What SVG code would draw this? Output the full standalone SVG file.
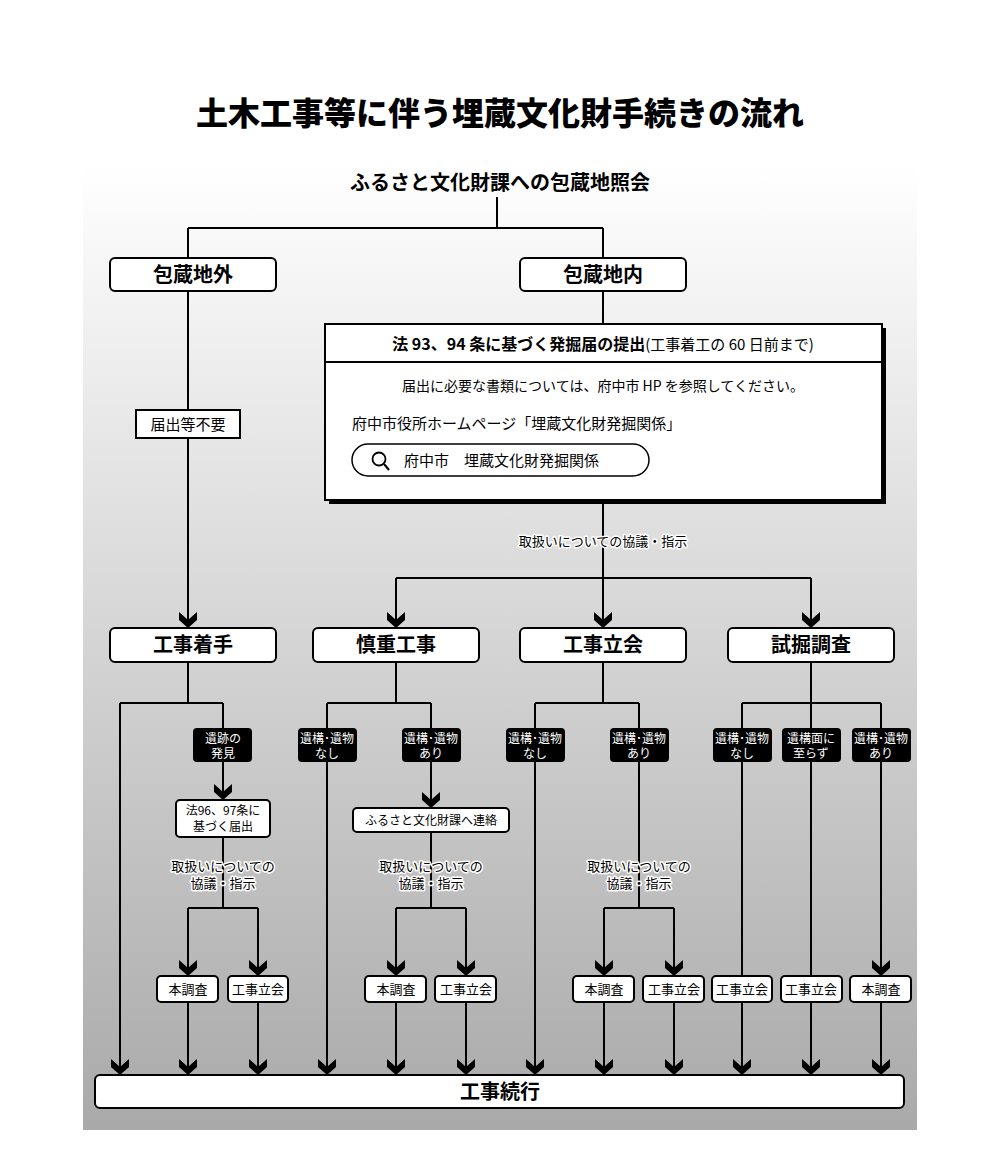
<svg xmlns="http://www.w3.org/2000/svg" width="1000" height="1154" viewBox="0 0 1000 1154">
<defs>
<linearGradient id="bg" x1="0" y1="0" x2="0" y2="1"><stop offset="0" stop-color="#ffffff"/><stop offset="1" stop-color="#a9a9a9"/></linearGradient>
<path id="ar" d="M-9,-16 L0,-8 L9,-16 L9,-8 L0,0 L-9,-8 Z" fill="#000"/>
<style>
text{font-family:"Noto Sans CJK JP","Noto Sans",sans-serif;text-anchor:middle;fill:#000}
.box{fill:#fff;stroke:#000;stroke-width:2}
.blk{fill:#000}
.ln{stroke:#000;stroke-width:2;fill:none}
.big{font-size:20px;font-weight:700}
.sm{font-size:13px}
.w{fill:#fff;font-size:12px}
.halo{stroke:#fff;stroke-width:3;paint-order:stroke;stroke-linejoin:round}
</style>
</defs>
<rect width="1000" height="1154" fill="#fff"/>
<rect x="83" y="165" width="834" height="965" fill="url(#bg)"/>
<text x="500" y="125" style="font-size:32px;font-weight:900">土木工事等に伴う埋蔵文化財手続きの流れ</text>
<g id="connectors">
<path class="ln" d="M497,197V228M188,228H603M188,228V258M603,228V258"/>
<path class="ln" d="M188,291V626M603,291V324M603,500V578M396,578H811M396,578V626M603,578V626M811,578V626"/>
<path class="ln" d="M188,662V703H223M120,703H223M120,703V1073M223,703V728M223,762V798M223,837V908M188,908H258M188,908V974M258,908V974M188,1002V1073M258,1002V1073"/>
<path class="ln" d="M396,662V703M327,703H431M327,703V1073M431,703V806M431,832V908M396,908H466M396,908V974M466,908V974M396,1002V1073M466,1002V1073"/>
<path class="ln" d="M603,662V703M535,703H639M535,703V1073M639,703V908M604,908H674M604,908V974M674,908V974M604,1002V1073M674,1002V1073"/>
<path class="ln" d="M811,662V703M742,703H881M742,703V976M811,703V976M881,703V974M742,1002V1073M811,1002V1073M881,1002V1073"/>
<use href="#ar" x="188" y="628"/><use href="#ar" x="396" y="628"/><use href="#ar" x="603" y="628"/><use href="#ar" x="811" y="628"/>
<use href="#ar" x="223" y="800"/><use href="#ar" x="431" y="808"/>
<use href="#ar" x="188" y="976"/><use href="#ar" x="258" y="976"/><use href="#ar" x="396" y="976"/><use href="#ar" x="466" y="976"/><use href="#ar" x="604" y="976"/><use href="#ar" x="674" y="976"/><use href="#ar" x="881" y="976"/>
<use href="#ar" x="120" y="1075"/><use href="#ar" x="188" y="1075"/><use href="#ar" x="258" y="1075"/><use href="#ar" x="327" y="1075"/><use href="#ar" x="396" y="1075"/><use href="#ar" x="466" y="1075"/><use href="#ar" x="535" y="1075"/><use href="#ar" x="604" y="1075"/><use href="#ar" x="674" y="1075"/><use href="#ar" x="742" y="1075"/><use href="#ar" x="811" y="1075"/><use href="#ar" x="881" y="1075"/>
<text class="sm halo" x="603" y="546">取扱いについての協議・指示</text>
<text class="sm halo" x="223" y="871">取扱いについての</text><text class="sm halo" x="223" y="888">協議・指示</text>
<text class="sm halo" x="431" y="871">取扱いについての</text><text class="sm halo" x="431" y="888">協議・指示</text>
<text class="sm halo" x="639" y="871">取扱いについての</text><text class="sm halo" x="639" y="888">協議・指示</text>
</g>
<g id="n-top"><text class="big" x="500" y="190">ふるさと文化財課への包蔵地照会</text></g>
<g id="n-out"><rect class="box" x="110" y="258" width="166" height="33" rx="5"/><text class="big" x="193" y="282">包蔵地外</text></g>
<g id="n-in"><rect class="box" x="520" y="258" width="166" height="33" rx="5"/><text class="big" x="603" y="282">包蔵地内</text></g>
<g id="n-nofile"><rect class="box" x="136" y="410" width="104" height="28"/><text x="188" y="430" style="font-size:15px">届出等不要</text></g>
<g id="n-file">
<rect x="329" y="328" width="557" height="176" fill="#000"/>
<rect class="box" x="325" y="324" width="557" height="176"/>
<line class="ln" x1="325" y1="362" x2="882" y2="362"/>
<text x="603" y="350" style="font-size:16px"><tspan font-weight="700">法 93、94 条に基づく発掘届の提出</tspan><tspan font-size="15px">(工事着工の 60 日前まで)</tspan></text>
<text x="603" y="391" style="font-size:14px">届出に必要な書類については、府中市 HP を参照してください。</text>
<text x="352" y="429" style="font-size:15px;text-anchor:start">府中市役所ホームページ「埋蔵文化財発掘関係」</text>
<rect x="352" y="444" width="297" height="32" rx="16" fill="#fff" stroke="#000" stroke-width="1.5"/>
<circle cx="379" cy="459" r="6.5" fill="none" stroke="#000" stroke-width="1.8"/><line x1="384" y1="464" x2="389" y2="470" stroke="#000" stroke-width="2"/>
<text x="404" y="466" style="font-size:15px;text-anchor:start">府中市　埋蔵文化財発掘関係</text>
</g>
<g id="n-start"><rect class="box" x="110" y="628" width="166" height="34" rx="5"/><text class="big" x="193" y="652">工事着手</text></g>
<g id="n-careful"><rect class="box" x="313" y="628" width="166" height="34" rx="5"/><text class="big" x="396" y="652">慎重工事</text></g>
<g id="n-witness"><rect class="box" x="520" y="628" width="166" height="34" rx="5"/><text class="big" x="603" y="652">工事立会</text></g>
<g id="n-trial"><rect class="box" x="728" y="628" width="166" height="34" rx="5"/><text class="big" x="811" y="652">試掘調査</text></g>
<g id="b1"><rect class="blk" x="193" y="728" width="59" height="34" rx="4"/><text class="w" x="223" y="743">遺跡の</text><text class="w" x="223" y="758">発見</text></g>
<g id="b2"><rect class="blk" x="298" y="728" width="59" height="34" rx="4"/><text class="w" x="327" y="743">遺構･遺物</text><text class="w" x="327" y="758">なし</text></g>
<g id="b3"><rect class="blk" x="402" y="728" width="59" height="34" rx="4"/><text class="w" x="431" y="743">遺構･遺物</text><text class="w" x="431" y="758">あり</text></g>
<g id="b4"><rect class="blk" x="506" y="728" width="59" height="34" rx="4"/><text class="w" x="535" y="743">遺構･遺物</text><text class="w" x="535" y="758">なし</text></g>
<g id="b5"><rect class="blk" x="610" y="728" width="59" height="34" rx="4"/><text class="w" x="639" y="743">遺構･遺物</text><text class="w" x="639" y="758">あり</text></g>
<g id="b6"><rect class="blk" x="713" y="728" width="59" height="34" rx="4"/><text class="w" x="742" y="743">遺構･遺物</text><text class="w" x="742" y="758">なし</text></g>
<g id="b7"><rect class="blk" x="782" y="728" width="59" height="34" rx="4"/><text class="w" x="811" y="743">遺構面に</text><text class="w" x="811" y="758">至らず</text></g>
<g id="b8"><rect class="blk" x="852" y="728" width="59" height="34" rx="4"/><text class="w" x="881" y="743">遺構･遺物</text><text class="w" x="881" y="758">あり</text></g>
<g id="n-law96"><rect class="box" x="176" y="800" width="94" height="37" rx="4"/><text x="223" y="815" style="font-size:12px">法96、97条に</text><text x="223" y="831" style="font-size:12px">基づく届出</text></g>
<g id="n-contact"><rect class="box" x="353" y="808" width="156" height="24" rx="4"/><text x="431" y="825" style="font-size:12px">ふるさと文化財課へ連絡</text></g>
<g id="r1"><rect class="box" x="157" y="976" width="61" height="26" rx="4"/><text class="sm" x="188" y="994">本調査</text></g>
<g id="r2"><rect class="box" x="228" y="976" width="60" height="26" rx="4"/><text class="sm" x="258" y="994">工事立会</text></g>
<g id="r3"><rect class="box" x="365" y="976" width="61" height="26" rx="4"/><text class="sm" x="396" y="994">本調査</text></g>
<g id="r4"><rect class="box" x="435" y="976" width="61" height="26" rx="4"/><text class="sm" x="466" y="994">工事立会</text></g>
<g id="r5"><rect class="box" x="573" y="976" width="61" height="26" rx="4"/><text class="sm" x="604" y="994">本調査</text></g>
<g id="r6"><rect class="box" x="643" y="976" width="61" height="26" rx="4"/><text class="sm" x="674" y="994">工事立会</text></g>
<g id="r7"><rect class="box" x="712" y="976" width="60" height="26" rx="4"/><text class="sm" x="742" y="994">工事立会</text></g>
<g id="r8"><rect class="box" x="781" y="976" width="61" height="26" rx="4"/><text class="sm" x="811" y="994">工事立会</text></g>
<g id="r9"><rect class="box" x="850" y="976" width="61" height="26" rx="4"/><text class="sm" x="881" y="994">本調査</text></g>
<g id="n-continue"><rect class="box" x="95" y="1075" width="809" height="33" rx="5"/><text class="big" x="500" y="1099">工事続行</text></g>
</svg>
